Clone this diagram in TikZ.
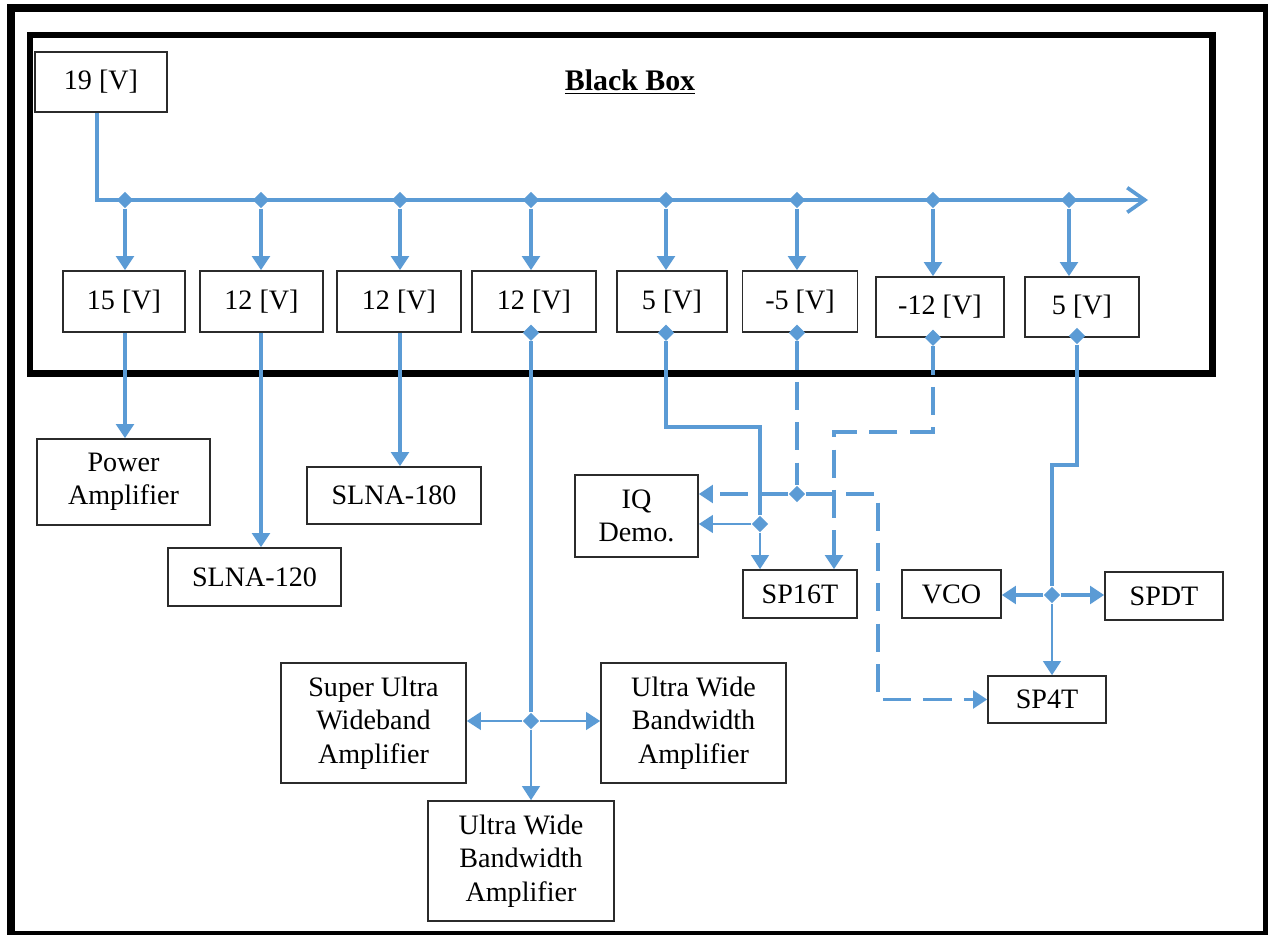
\documentclass[tikz,border=0pt]{standalone}
\usepackage{fontspec}
\setmainfont{Liberation Serif}
\usetikzlibrary{arrows.meta,shapes.geometric}

\definecolor{wire}{HTML}{5B9BD5}
\definecolor{edge}{HTML}{2B2B2B}

\tikzset{
  box/.style={draw=edge, line width=0.9pt, inner sep=0pt, align=center,
    font=\fontsize{16}{19}\selectfont},
  sz/.style 2 args={minimum width=#1*0.02cm, minimum height=#2*0.02cm},
  dot/.style={diamond, fill=wire, inner sep=0pt, minimum size=9.5pt},
  pwr/.style={draw=wire, line width=2.1pt},
  feed/.style={draw=wire, line width=1.4pt},
  neg/.style={dash pattern=on 16pt off 7pt},
  tip/.style={-{Triangle[width=10pt,length=8pt]}},
}

\begin{document}
\begin{tikzpicture}[x=0.02cm, y=-0.02cm]
\useasboundingbox (0,0) rectangle (1268,935);

% frames
\draw[line width=5pt] (11,8) rectangle (1267,935);
\draw[line width=3.8pt] (30,35) rectangle (1212.5,373.5);
\node[font=\fontsize{17}{20}\selectfont\bfseries] (title) at (630,82) {\underline{Black Box}};

% supply and regulators
\node[box, sz={132}{60}] (v19) at (101,82) {19 [V]};
\node[box, sz={122}{61}] (v15) at (124,301.5) {15 [V]};
\node[box, sz={123}{61}] (v12a) at (261.5,301.5) {12 [V]};
\node[box, sz={124}{61}] (v12b) at (399,301.5) {12 [V]};
\node[box, sz={124}{61}] (v12c) at (534,301.5) {12 [V]};
\node[box, sz={110}{61}] (v5a) at (672,301.5) {5 [V]};
\node[box, sz={115}{61}] (vm5) at (800,301.5) {-5 [V]};
\node[box, sz={128}{60}] (vm12) at (940,307) {-12 [V]};
\node[box, sz={114}{60}] (v5b) at (1082,307) {5 [V]};

% loads
\node[box, sz={173}{86}] (pa) at (123.5,482) {Power\\Amplifier};
\node[box, sz={173}{58}] (slna120) at (254.5,577) {SLNA-120};
\node[box, sz={174}{57}] (slna180) at (394,495.5) {SLNA-180};
\node[box, sz={185}{120}] (suwa) at (373.5,723) {Super Ultra\\Wideband\\Amplifier};
\node[box, sz={185}{120}] (uwba1) at (693.5,723) {Ultra Wide\\Bandwidth\\Amplifier};
\node[box, sz={186}{120}] (uwba2) at (521,861) {Ultra Wide\\Bandwidth\\Amplifier};
\node[box, sz={123}{82}] (iq) at (636.5,516) {IQ\\Demo.};
\node[box, sz={114}{48}] (sp16t) at (800,594) {SP16T};
\node[box, sz={99}{48}] (vco) at (951.5,594) {VCO};
\node[box, sz={118}{48}] (spdt) at (1164,596) {SPDT};
\node[box, sz={118}{47}] (sp4t) at (1047,699.5) {SP4T};

% 19 V bus
\coordinate (busL) at (97,200);
\coordinate (busR) at (1148,200);
\draw[pwr, -{Straight Barb[length=10pt,width=14pt]}] (v19.south -| busL) -- (busL) -- (busR);

\node[dot] (j1) at (125,200) {};
\node[dot] (j2) at (261,200) {};
\node[dot] (j3) at (400,200) {};
\node[dot] (j4) at (531,200) {};
\node[dot] (j5) at (666,200) {};
\node[dot] (j6) at (797,200) {};
\node[dot] (j7) at (933,200) {};
\node[dot] (j8) at (1069,200) {};

\draw[pwr,tip] (j1) -- (j1 |- v15.north);
\draw[pwr,tip] (j2) -- (j2 |- v12a.north);
\draw[pwr,tip] (j3) -- (j3 |- v12b.north);
\draw[pwr,tip] (j4) -- (j4 |- v12c.north);
\draw[pwr,tip] (j5) -- (j5 |- v5a.north);
\draw[pwr,tip] (j6) -- (j6 |- vm5.north);
\draw[pwr,tip] (j7) -- (j7 |- vm12.north);
\draw[pwr,tip] (j8) -- (j8 |- v5b.north);

% 15 V and 12 V outputs
\draw[pwr,tip] (j1 |- v15.south) -- (j1 |- pa.north);
\draw[pwr,tip] (j2 |- v12a.south) -- (j2 |- slna120.north);
\draw[pwr,tip] (j3 |- v12b.south) -- (j3 |- slna180.north);

\node[dot] (d4) at (j4 |- v12c.south) {};
\node[dot] (k4) at (531,721) {};
\draw[pwr] (d4) -- (k4);
\draw[feed,tip] (k4) -- (k4 -| suwa.east);
\draw[feed,tip] (k4) -- (k4 -| uwba1.west);
\draw[feed,tip] (k4) -- (k4 |- uwba2.north);

% 5 V to IQ and SP16T
\node[dot] (d5) at (j5 |- v5a.south) {};
\coordinate (b5) at (760,427);
\node[dot] (k5) at (760,524) {};
\draw[pwr] (d5) |- (b5) -- (k5);
\draw[feed,tip] (k5) -- (k5 -| iq.east);
\draw[feed,tip] (k5) -- (k5 |- sp16t.north);

% -5 V
\node[dot] (d6) at (j6 |- vm5.south) {};
\node[dot] (k6) at (797,494) {};
\coordinate (b6) at (878,494);
\draw[pwr,neg] (d6) -- (k6);
\draw[pwr,neg,tip] (k6) -- (k6 -| iq.east);
\draw[pwr,neg,tip] (k6) -- (b6) |- (sp4t.west);

% -12 V
\node[dot] (d7) at (j7 |- vm12.south) {};
\coordinate (b7) at (834,432);
\draw[pwr,neg,tip] (d7) |- (b7) -- (b7 |- sp16t.north);

% 5 V to VCO, SPDT, SP4T
\node[dot] (d8) at (1077,336) {};
\coordinate (b8) at (1052,465);
\node[dot] (k8) at (1052,595) {};
\draw[pwr] (d8) |- (b8) -- (k8);
\draw[pwr,tip] (k8) -- (k8 -| vco.east);
\draw[pwr,tip] (k8) -- (k8 -| spdt.west);
\draw[feed,tip] (k8) -- (k8 |- sp4t.north);
\end{tikzpicture}
\end{document}
